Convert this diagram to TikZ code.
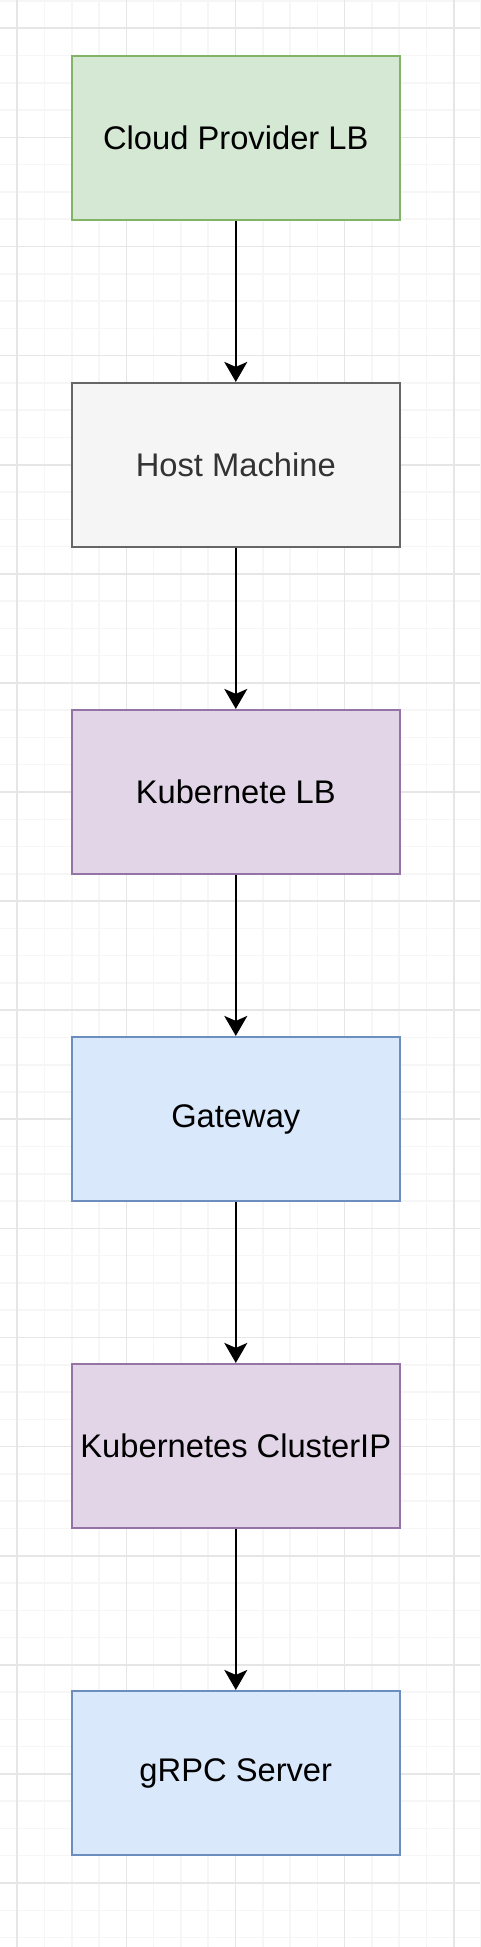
\documentclass[tikz,border=0pt]{standalone}
\usepackage{fontspec}
\setmainfont{Liberation Sans}
\usetikzlibrary{arrows.meta}
\definecolor{gminor}{HTML}{F6F6F6}
\definecolor{gmajor}{HTML}{E6E6E6}
\definecolor{greenF}{HTML}{D5E8D4}\definecolor{greenS}{HTML}{82B366}
\definecolor{grayF}{HTML}{F5F5F5}\definecolor{grayS}{HTML}{666666}
\definecolor{purpF}{HTML}{E1D5E7}\definecolor{purpS}{HTML}{9673A6}
\definecolor{blueF}{HTML}{DAE8FC}\definecolor{blueS}{HTML}{6C8EBF}
\tikzset{
  minorline/.style={draw=gminor, line width=1.5pt},
  majorline/.style={draw=gmajor, line width=1.7pt},
  box/.style={rectangle, minimum width=328.3pt, minimum height=164pt, inner sep=0pt, line width=2.2pt, font=\fontsize{32.7pt}{38pt}\selectfont},
  greenbox/.style={box, fill=greenF, draw=greenS},
  graybox/.style={box, fill=grayF, draw=grayS, text=black!80},
  purplebox/.style={box, fill=purpF, draw=purpS},
  bluebox/.style={box, fill=blueF, draw=blueS},
  arr/.style={draw=black, line width=2pt, -{Stealth[length=20pt, width=23pt, inset=5pt]}}
}
\begin{document}
\begin{tikzpicture}[x=1pt,y=-1pt]
\useasboundingbox (0,0) rectangle (480,1947);
\fill[white] (0,0) rectangle (480,1947);
\foreach \i in {-1,...,17} {\draw[minorline] ({17.3+27.275*\i},0) -- ({17.3+27.275*\i},1947);}
\foreach \j in {-1,...,71} {\draw[minorline] (0,{28.3+27.275*\j}) -- (480,{28.3+27.275*\j});}
\foreach \i in {0,...,4} {\draw[majorline] ({17.3+109.1*\i},0) -- ({17.3+109.1*\i},1947);}
\foreach \j in {0,...,17} {\draw[majorline] (0,{28.3+109.1*\j}) -- (480,{28.3+109.1*\j});}
\node[greenbox] (cp) at (235.8,138) {Cloud Provider LB};
\node[graybox] (hm) at (235.8,465) {Host Machine};
\node[purplebox] (klb) at (235.8,792) {Kubernete LB};
\node[bluebox] (gw) at (235.8,1119) {Gateway};
\node[purplebox] (kc) at (235.8,1446) {Kubernetes ClusterIP};
\node[bluebox] (gs) at (235.8,1773) {gRPC Server};
\draw[arr] (cp) -- (hm);
\draw[arr] (hm) -- (klb);
\draw[arr] (klb) -- (gw);
\draw[arr] (gw) -- (kc);
\draw[arr] (kc) -- (gs);
\end{tikzpicture}
\end{document}
